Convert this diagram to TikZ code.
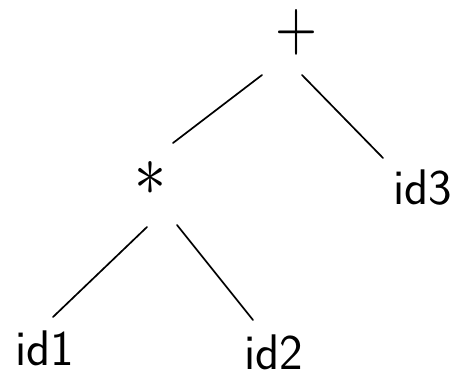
\documentclass[tikz,border=0pt]{standalone}
\usepackage{fix-cm}
\begin{document}
\begin{tikzpicture}[x=1pt,y=-1pt,
  lbl/.style={inner sep=0pt,anchor=center,font=\sffamily\fontsize{50}{60}\selectfont},
  sym/.style={inner sep=0pt,anchor=center},
  edge/.style={line width=1.7pt,line cap=round}]
\useasboundingbox (0,0) rectangle (457,383);
\node[sym] (plus) at (296,32) {\resizebox{42pt}{40pt}{$+$}};
\node[sym] (star) at (150,178) {\resizebox{32pt}{34pt}{$\ast$}};
\node[lbl] (id3) at (423,188) {id3};
\node[lbl] (id1) at (45,348) {id1};
\node[lbl] (id2) at (274,352) {id2};
\draw[edge] ([shift={(-34,43)}]plus.center) -- ([shift={(23,-35)}]star.center);
\draw[edge] ([shift={(6,43)}]plus.center) -- ([shift={(-40,-30)}]id3.center);
\draw[edge] ([shift={(-3,49)}]star.center) -- ([shift={(8,-31)}]id1.center);
\draw[edge] ([shift={(27,47)}]star.center) -- ([shift={(-21,-32)}]id2.center);
\end{tikzpicture}
\end{document}
